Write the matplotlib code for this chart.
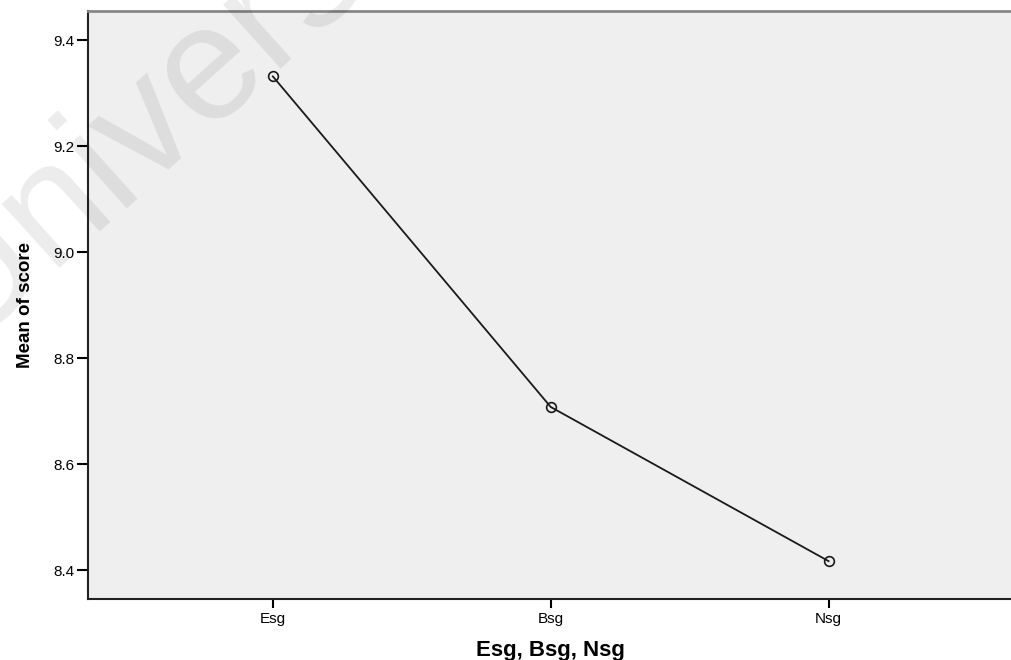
import matplotlib
matplotlib.use("Agg")
import matplotlib.pyplot as plt

plt.rcParams['font.family'] = ['Liberation Sans', 'DejaVu Sans']

groups = ['Esg', 'Bsg', 'Nsg']
mean_score = [9.332, 8.708, 8.417]
yticks = [8.4, 8.6, 8.8, 9.0, 9.2, 9.4]

fig = plt.figure(figsize=(10.12, 6.6), dpi=100)
ax = fig.add_axes([0.087, 0.092, 0.913, 0.891])
ax.set_facecolor('#efefef')

ax.plot(range(len(groups)), mean_score, color='#1a1a1a', lw=1.3,
        marker='o', ms=7, mfc='none', mec='#1a1a1a', mew=1.2)

ax.set_xlim(-0.665, 2.66)
ax.set_ylim(8.345, 9.455)
ax.set_xticks(range(len(groups)))
ax.set_xticklabels(groups, fontsize=11)
ax.set_yticks(yticks)
ax.set_yticklabels([f'{v:.1f}' for v in yticks], fontsize=11)
ax.tick_params(axis='y', length=8, width=1.5, pad=2)
ax.tick_params(axis='x', length=6.5, width=1.5, pad=3)

for s in ['left', 'bottom']:
    ax.spines[s].set_linewidth(1.5)
    ax.spines[s].set_color('#222222')
ax.spines['top'].set_color('#888888')
ax.spines['top'].set_linewidth(2)
ax.spines['right'].set_visible(False)

ax.set_xlabel('Esg, Bsg, Nsg', fontsize=16, fontweight='bold', labelpad=10)
ax.set_ylabel('Mean of score', fontsize=13.5, fontweight='bold', labelpad=14)

# faint watermark
fig.text(-0.038, 0.477, 'University', fontsize=117, color='black', alpha=0.08,
         rotation=42, rotation_mode='anchor', ha='left', va='baseline', zorder=10)

fig.savefig('out.png', dpi=100)
